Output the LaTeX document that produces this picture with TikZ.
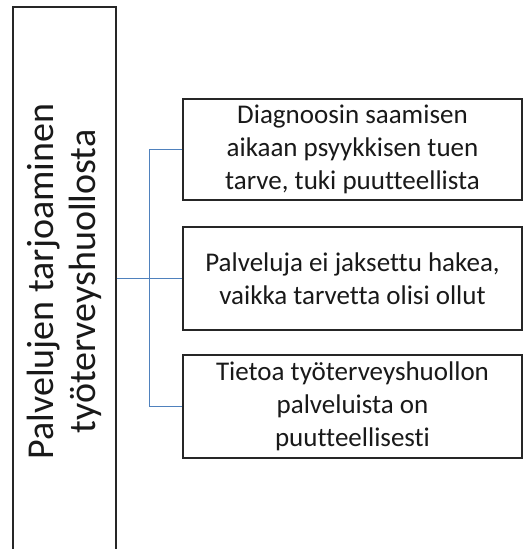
\documentclass[tikz,border=0pt]{standalone}
\usepackage{fontspec}
\setmainfont{Carlito}[Ligatures=NoCommon]
\begin{document}
\begin{tikzpicture}[x=1pt,y=-1pt,
  itembox/.style={draw=black!85, line width=1.1pt, minimum width=339pt, minimum height=103pt,
    align=center, inner sep=2pt, font=\fontsize{27}{33}\selectfont, text=black!90},
  mainbox/.style={draw=black!85, line width=1.1pt, rotate=90, minimum width=549pt, minimum height=103pt,
    align=center, inner sep=0pt, font=\fontsize{38}{42}\selectfont, text=black!90},
  link/.style={draw=linkblue, line width=1pt}]
\useasboundingbox (0,0) rectangle (523,549);
\clip (0,0) rectangle (523,549);
\definecolor{linkblue}{RGB}{79,129,189}
% heading box, running off the bottom edge
\node[mainbox] (main) at (64.5,281.5) {Palvelujen tarjoaminen\\työterveyshuollosta};
% the three findings
\node[itembox, minimum height=101pt] (b1) at (352.5,149.5) {Diagnoosin saamisen\\aikaan psyykkisen tuen\\tarve, tuki puutteellista};
\node[itembox] (b2) at (352.5,278.5) {Palveluja ei jaksettu hakea,\\vaikka tarvetta olisi ollut};
\node[itembox] (b3) at (352.5,406.5) {Tietoa työterveyshuollon\\palveluista on\\puutteellisesti};
% bracket connector
\draw[link] (main.south |- b2.west) -- (b2.west);
\draw[link] (b1.west) -- ++(-33,0) |- (b3.west);
\end{tikzpicture}
\end{document}
